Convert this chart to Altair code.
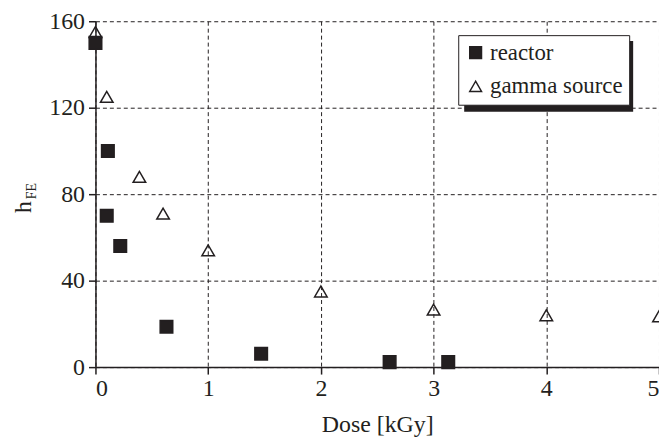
import altair as alt
import pandas as pd

# Data
reactor_dose = [0.0, 0.11, 0.1, 0.22, 0.63, 1.47, 2.61, 3.13]
reactor_hfe = [150, 100, 70, 56, 18.7, 6.2, 2.3, 2.3]
gamma_dose = [0.0, 0.1, 0.39, 0.6, 1.0, 2.0, 3.0, 4.0, 5.0]
gamma_hfe = [155, 125, 88, 71, 54, 35, 26.6, 24, 23.5]
series_names = ["reactor", "gamma source"]
x_ticks = [0, 1, 2, 3, 4, 5]
y_ticks = [0, 40, 80, 120, 160]

FONT = "Liberation Serif"
INK = "#231f20"

df = pd.concat([
    pd.DataFrame({"dose": reactor_dose, "hfe": reactor_hfe, "series": series_names[0]}),
    pd.DataFrame({"dose": gamma_dose, "hfe": gamma_hfe, "series": series_names[1]}),
])

legend = alt.Legend(
    title=None, orient="none", legendX=365, legendY=14,
    fillColor="white", strokeColor=INK,
    padding=6, labelFont=FONT, labelFontSize=23, labelColor=INK,
    labelOffset=3, rowPadding=10, symbolSize=140, symbolStrokeWidth=1.5,
    cornerRadius=0,
)

points = alt.Chart(df).mark_point(size=160, strokeWidth=1.5, opacity=1).encode(
    x=alt.X("dose:Q", scale=alt.Scale(domain=[0, 5], nice=False, zero=False),
            axis=alt.Axis(values=x_ticks, title="Dose [kGy]", format="d",
                          labelPadding=3, titlePadding=12)),
    y=alt.Y("hfe:Q", scale=alt.Scale(domain=[0, 160], nice=False),
            axis=alt.Axis(values=y_ticks, title=None, format="d", labelPadding=4)),
    shape=alt.Shape("series:N", scale=alt.Scale(domain=series_names, range=["square", "triangle-up"]), legend=legend),
    fill=alt.Fill("series:N", scale=alt.Scale(domain=series_names, range=[INK, "transparent"]), legend=legend),
    stroke=alt.Stroke("series:N", scale=alt.Scale(domain=series_names, range=[INK, INK]), legend=legend),
)

# legend drop shadow
shadow = alt.Chart(pd.DataFrame({"a": [0]})).mark_rect(color=INK).encode(
    x=alt.value(371), x2=alt.value(541), y=alt.value(20), y2=alt.value(91)
)

title_h = alt.Chart(pd.DataFrame({"t": ["h"]})).mark_text(
    font=FONT, fontSize=24, angle=270, align="left", baseline="alphabetic", color=INK
).encode(text="t:N", x=alt.value(-65), y=alt.value(193))

title_fe = alt.Chart(pd.DataFrame({"t": ["FE"]})).mark_text(
    font=FONT, fontSize=14, angle=270, align="left", baseline="alphabetic", color=INK
).encode(text="t:N", x=alt.value(-60), y=alt.value(179))

chart = alt.layer(shadow, points, title_h, title_fe).properties(
    width=567, height=348,
    autosize=alt.AutoSizeParams(type="none"),
    padding={"left": 88, "top": 12, "right": 0, "bottom": 70},
).configure_view(stroke=None).configure_axis(
    labelFont=FONT, labelFontSize=24, labelColor=INK,
    titleFont=FONT, titleFontSize=24, titleColor=INK, titleFontWeight="normal",
    domainColor=INK, domainWidth=1.5, tickColor=INK, tickWidth=1.5, tickSize=7,
    gridColor=INK, gridDash=[4, 3], gridWidth=1, gridOpacity=1, grid=True,
)

chart.save("out.html", embed_options={"renderer": "svg", "actions": False})
